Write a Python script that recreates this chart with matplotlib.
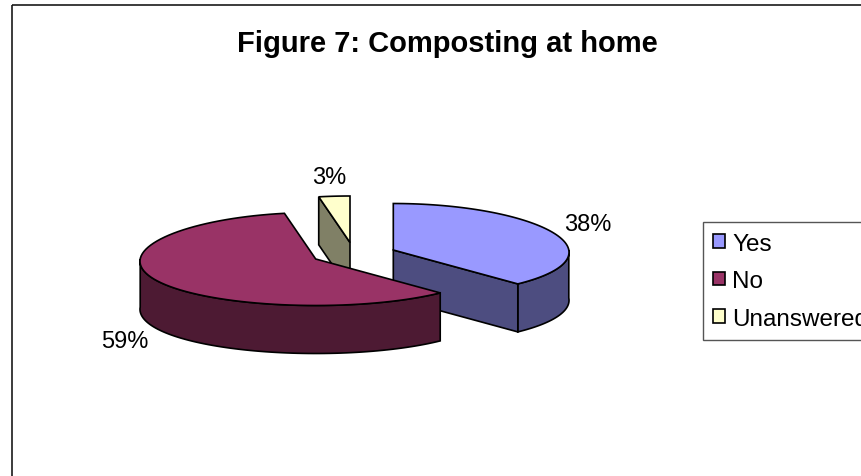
import numpy as np
import matplotlib
matplotlib.use("Agg")
import matplotlib.pyplot as plt
from matplotlib.patches import Polygon, Rectangle, Patch

plt.rcParams['font.family'] = ['Liberation Sans', 'DejaVu Sans']

categories = ['Yes', 'No', 'Unanswered']
values = [38, 59, 3]
top_colors = ['#9999FF', '#993366', '#FFFFCC']
side_colors = ['#4D4D80', '#4D1A33', '#808066']

# layout of the fake 3d pie, in pixels
centers = [(393.3, 251.0), (315.7, 260.0), (350.0, 243.5)]
label_pos = [(588, 230.7), (125, 348.3), (329.7, 184)]
a, b = 175.5, 46.5
depth = 48.0
persp = 0.05

fig = plt.figure(figsize=(8.61, 4.77), dpi=100)
ax = fig.add_axes([0, 0, 1, 1])
ax.set_xlim(0, 861)
ax.set_ylim(477, 0)
ax.axis('off')


def rim(c, t0, t1):
    # t in degrees, clockwise from 12 o'clock, front of the pie a bit wider
    t = np.radians(np.linspace(t0, t1, 80))
    return np.column_stack([c[0] + a * np.sin(t) * (1 - persp * np.cos(t)),
                            c[1] - b * np.cos(t)])


def draw_slice(i, t0, t1):
    c = centers[i]
    # outer wall, front half only
    w0, w1 = max(t0, 90), min(t1, 270)
    if w1 > w0:
        r = rim(c, w0, w1)
        low = r[::-1] + [0, depth]
        ax.add_patch(Polygon(np.vstack([r, low]), fc=side_colors[i], ec='k', lw=1.2))
    # cut faces that look towards the viewer
    for t, show in ((t0, t0 > 180), (t1, t1 < 180)):
        if show:
            end = rim(c, t, t)[0]
            quad = [c, end, end + [0, depth], (c[0], c[1] + depth)]
            ax.add_patch(Polygon(quad, fc=side_colors[i], ec='k', lw=1.2))
    ax.add_patch(Polygon(np.vstack([[c], rim(c, t0, t1)]), fc=top_colors[i], ec='k', lw=1.2))


edges = np.cumsum([0] + values) * 3.6
for i in [2, 0, 1]:
    draw_slice(i, edges[i], edges[i + 1])

for v, (x, y) in zip(values, label_pos):
    ax.text(x, y, f'{v}%', fontsize=17, ha='center', va='baseline', color='k')

ax.text(447.5, 52, 'Figure 7: Composting at home', fontsize=21, fontweight='bold',
        ha='center', va='baseline', color='k')

# outer chart frame runs off the right and bottom of the picture
ax.add_patch(Rectangle((11.5, 6), 900, 520, fc='none', ec='#1a1a1a', lw=1.2))

handles = [Patch(fc=c, ec='k', lw=1.2) for c in top_colors]
leg = ax.legend(handles, categories, loc='upper left',
                bbox_to_anchor=(702.7 / 861, 1 - 223.3 / 477), borderaxespad=0,
                fontsize=17.5, frameon=True, fancybox=False, edgecolor='#555555',
                framealpha=1, handlelength=0.5, handleheight=0.5, handletextpad=0.3,
                labelspacing=0.64, borderpad=0.42)
leg.get_frame().set_linewidth(1.0)

fig.savefig('out.png', dpi=100)
